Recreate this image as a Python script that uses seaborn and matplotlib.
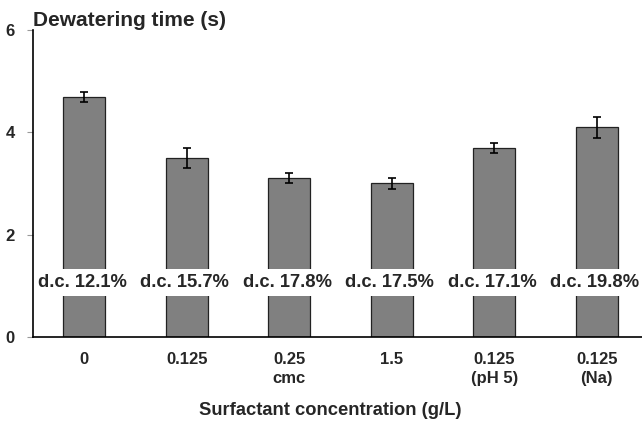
import matplotlib
matplotlib.use("Agg")
import matplotlib.pyplot as plt
import seaborn as sns
import pandas as pd
from matplotlib.ticker import FixedLocator

conditions = ["c0", "c0125", "c025cmc", "c15", "c0125pH5", "c0125Na"]
tick_labels = ["0", "0.125", "0.25\ncmc", "1.5", "0.125\n(pH 5)", "0.125\n(Na)"]
dewatering_time = [4.7, 3.5, 3.1, 3.0, 3.7, 4.1]
errors = [0.1, 0.2, 0.1, 0.1, 0.1, 0.2]
dc_labels = ["d.c. 12.1%", "d.c. 15.7%", "d.c. 17.8%", "d.c. 17.5%", "d.c. 17.1%", "d.c. 19.8%"]

sns.set_style("white")
plt.rcParams["font.family"] = ["Liberation Sans", "DejaVu Sans"]
plt.rcParams["font.weight"] = "bold"

df = pd.DataFrame({"condition": conditions, "time": dewatering_time})

fig = plt.figure(figsize=(6.42, 4.23), dpi=100)
ax = fig.add_axes([33 / 642, 1 - 336.5 / 423, 615 / 642, (336.5 - 30.5) / 423])

sns.barplot(data=df, x="condition", y="time", order=conditions, color="#808080",
            saturation=1, width=0.41, edgecolor="#222222", linewidth=0.9, ax=ax, zorder=1)

xs = list(range(len(conditions)))
ax.errorbar(xs, dewatering_time, yerr=errors, fmt="none", ecolor="black",
            elinewidth=1.2, capsize=3, capthick=1.2, zorder=3)

ax.axhspan(0.80, 1.32, color="white", zorder=1.5, lw=0)
for x, lab in zip(xs, dc_labels):
    ax.text(x - 0.02, 1.06, lab, ha="center", va="center", fontsize=13.2,
            fontweight="bold", zorder=4)

ax.set_xlim(-0.5, 5.5)
ax.set_ylim(0, 6)
ax.set_yticks([0, 2, 4, 6])
ax.set_yticklabels(["0", "2", "4", "6"], fontsize=12, fontweight="bold")
ax.set_xticks(xs)
ax.set_xticklabels(tick_labels, fontsize=12, fontweight="bold", linespacing=1.35)
ax.xaxis.set_minor_locator(FixedLocator([0.5, 1.5, 2.5, 3.5, 4.5]))
ax.tick_params(axis="x", which="major", length=0, pad=11)
ax.tick_params(axis="x", which="minor", length=5, width=0.8, color="#999999", direction="out")
ax.tick_params(axis="y", which="major", length=4, width=0.8, color="#999999", direction="out", pad=9, left=True)

for s in ["top", "right"]:
    ax.spines[s].set_visible(False)
for s in ["left", "bottom"]:
    ax.spines[s].set_color("black")
    ax.spines[s].set_linewidth(1.2)

ax.set_xlabel("")
ax.set_ylabel("")
fig.text(33 / 642, 1 - 20 / 423, "Dewatering time (s)", ha="left", va="center",
         fontsize=15, fontweight="bold")
fig.text(330 / 642, 1 - 410 / 423, "Surfactant concentration (g/L)", ha="center",
         va="center", fontsize=13.2, fontweight="bold")

fig.savefig("out.png", dpi=100)
